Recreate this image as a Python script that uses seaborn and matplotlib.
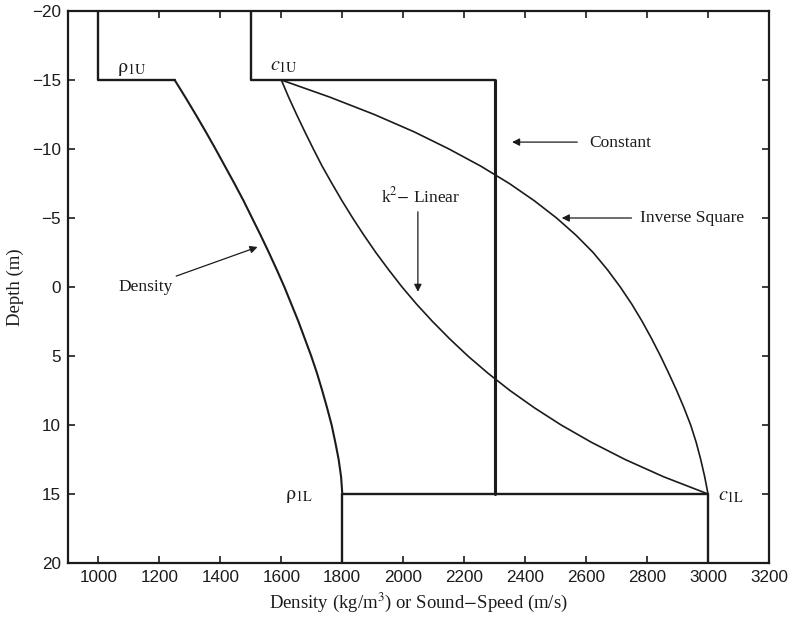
import numpy as np
import pandas as pd
import matplotlib
matplotlib.use("Agg")
import matplotlib.pyplot as plt
import seaborn as sns

# Depth samples through the transition layer (m)
depth = [-15, -13.75, -12.5, -11.25, -10, -8.75, -7.5, -6.25, -5, -3.75, -2.5, -1.25,
         0, 1.25, 2.5, 3.75, 5, 6.25, 7.5, 8.75, 10, 11.25, 12.5, 13.75, 15]

# Density profile across the layer (kg/m^3)
density = [1250, 1285, 1319, 1352, 1384, 1415, 1446, 1476, 1504, 1532, 1559, 1585,
           1610, 1633, 1656, 1677, 1698, 1717, 1734, 1750, 1765, 1777, 1788, 1796, 1800]

# Sound-speed profiles across the layer (m/s)
k2_linear = [1600, 1624, 1650, 1677, 1705, 1734, 1766, 1799, 1834, 1871, 1910, 1952,
             1996, 2044, 2096, 2152, 2212, 2278, 2350, 2430, 2518, 2617, 2728, 2854, 3000]
inverse_square = [1600, 1760, 1905, 2035, 2150, 2255, 2348, 2430, 2503, 2567, 2623, 2670,
                  2712, 2750, 2784, 2815, 2844, 2871, 2897, 2921, 2943, 2961, 2976, 2989, 3000]
constant_speed = 2300

# Half-space values above and below the layer
rho_upper, rho_lower = 1000, 1800
c_upper, c_lower = 1500, 3000
z_top, z_bot = -15, 15
z_min, z_max = -20, 20

sns.set_theme(style="ticks")
plt.rcParams["font.family"] = ["Liberation Sans", "DejaVu Sans"]
plt.rcParams["mathtext.fontset"] = "stix"

ink = "#1b1b1b"
fig, ax = plt.subplots(figsize=(7.9, 6.23), dpi=100)
fig.subplots_adjust(left=68 / 790, right=769 / 790, top=1 - 11 / 623, bottom=1 - 563 / 623)


def draw(values, depths, lw):
    df = pd.DataFrame({"value": values, "depth": depths})
    sns.lineplot(data=df, x="value", y="depth", sort=False, estimator=None,
                 color=ink, linewidth=lw, ax=ax)


# Density: upper half-space, jump, gradient, lower half-space
draw([rho_upper, rho_upper, density[0]], [z_min, z_top, z_top], 1.7)
draw(density, depth, 1.5)
draw([rho_lower, rho_lower], [z_bot, z_max], 1.7)

# Sound speed: upper half-space and top interface
draw([c_upper, c_upper, constant_speed], [z_min, z_top, z_top], 1.7)
# Constant-speed layer
draw([constant_speed, constant_speed], [z_top, z_bot], 2.2)
# Gradient layers
draw(k2_linear, depth, 1.2)
draw(inverse_square, depth, 1.2)
# Bottom interface and lower half-space
draw([rho_lower, c_lower], [z_bot, z_bot], 1.7)
draw([c_lower, c_lower], [z_bot, z_max], 1.7)

ax.set_xlim(900, 3200)
ax.set_ylim(z_max, z_min)
ax.set_xticks(np.arange(1000, 3201, 200))
ax.set_yticks(np.arange(-20, 21, 5))
ax.tick_params(direction="in", length=5, width=1.2, top=True, right=True,
               labelsize=12.3, colors=ink, pad=5)
for s in ax.spines.values():
    s.set_linewidth(1.6)
    s.set_color(ink)

serif = ["Liberation Serif", "DejaVu Serif"]
ax.set_xlabel(r"Density (kg/m$^3$) or Sound$-$Speed (m/s)", fontsize=13.5,
              family=serif, color=ink, labelpad=4)
ax.set_ylabel("Depth (m)", fontsize=13.5, family=serif, color=ink, labelpad=6)

tk = dict(fontsize=12.5, family=serif, color=ink)
lk = dict(fontsize=14.5, family=serif, color=ink)
ax.text(1110, -15.8, r"$\mathrm{\rho}_{\mathrm{1U}}$", ha="center", va="center", **lk)
ax.text(1607, -16.0, r"$c_{\mathrm{1U}}$", ha="center", va="center", **lk)
ax.text(1659, 15.1, r"$\mathrm{\rho}_{\mathrm{1L}}$", ha="center", va="center", **lk)
ax.text(3076, 15.1, r"$c_{\mathrm{1L}}$", ha="center", va="center", **lk)

arrow = dict(arrowstyle="-|>", color=ink, lw=0.9, mutation_scale=11, shrinkA=0, shrinkB=0)
ax.annotate("Density", xy=(1522, -2.9), xytext=(1155, 0.0), ha="center", va="center",
            arrowprops=arrow, **tk)
ax.annotate("", xy=(2048, 0.35), xytext=(2048, -5.45), arrowprops=arrow)
ax.text(2058, -6.6, r"k$^2$$-$ Linear", ha="center", va="center", **tk)
ax.annotate("", xy=(2357, -10.5), xytext=(2571, -10.5), arrowprops=arrow)
ax.text(2713, -10.4, "Constant", ha="center", va="center", **tk)
ax.annotate("", xy=(2520, -5.0), xytext=(2749, -5.0), arrowprops=arrow)
ax.text(2948, -5.0, "Inverse Square", ha="center", va="center", **tk)

fig.savefig("out.png", dpi=100)
